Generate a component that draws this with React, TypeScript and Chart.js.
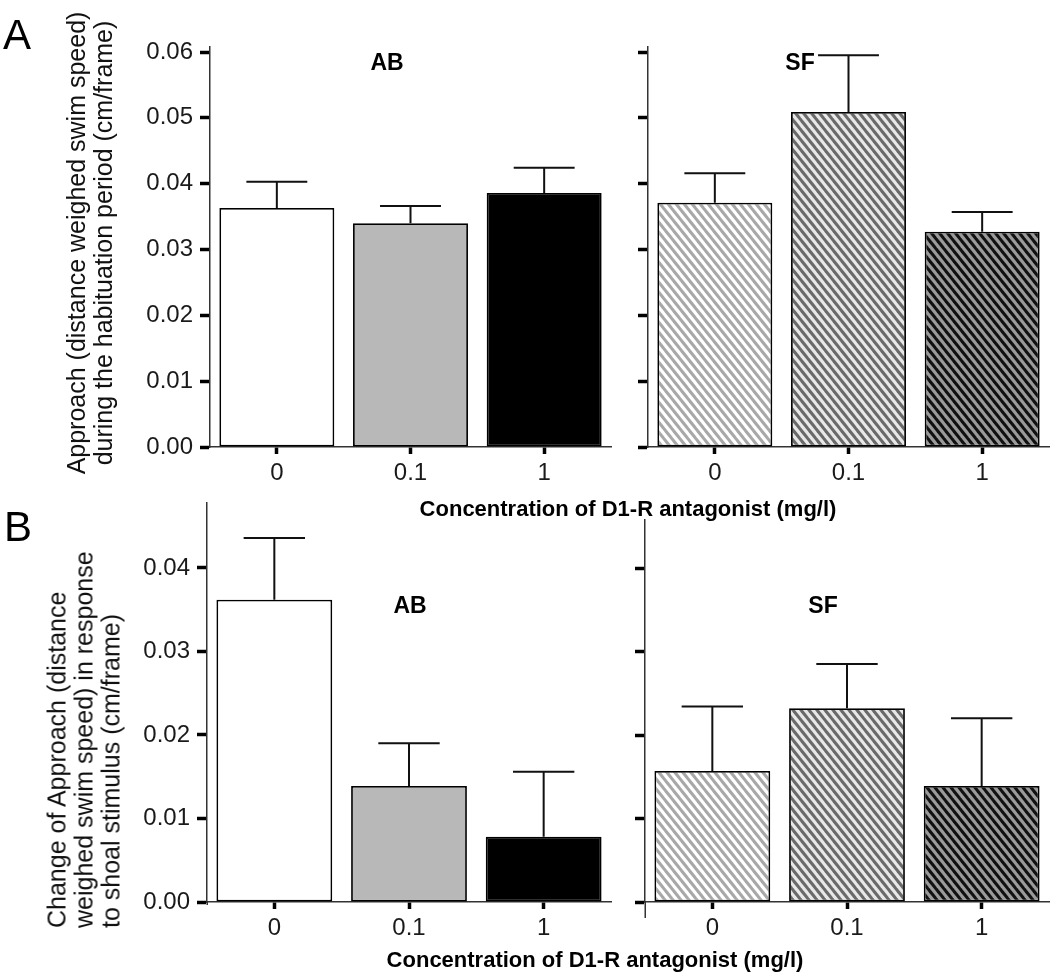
import React, { useEffect, useRef } from "react";
import { Chart, registerables } from "chart.js";

Chart.register(...registerables);

// ---------- data ----------
const categories = ["0", "0.1", "1"];

const abHabituationMeans = [0.0363, 0.034, 0.0386];
const abHabituationSem = [0.004, 0.0026, 0.0038];
const sfHabituationMeans = [0.0371, 0.0509, 0.0327];
const sfHabituationSem = [0.0045, 0.0086, 0.003];

const abChangeMeans = [0.0362, 0.0139, 0.0078];
const abChangeSem = [0.0074, 0.0051, 0.0078];
const sfChangeMeans = [0.0157, 0.0232, 0.0139];
const sfChangeSem = [0.0077, 0.0053, 0.0081];

const habituationTicks = [0, 0.01, 0.02, 0.03, 0.04, 0.05, 0.06];
const changeTicks = [0, 0.01, 0.02, 0.03, 0.04];

const yTitleA = ["Approach (distance weighed swim speed)", "during the habituation period (cm/frame)"];
const yTitleB = ["Change of Approach (distance", "weighed swim speed) in response", "to shoal stimulus (cm/frame)"];
const xTitle = "Concentration of D1-R antagonist (mg/l)";

// ---------- styles ----------
const FONT = '"Liberation Sans", Arial, Helvetica, sans-serif';
const abFills = ["#ffffff", "#b8b8b8", "#000000"];
const sfHatches = [
  { bg: "#ffffff", fg: "#a8a8a8" },
  { bg: "#e8e8e8", fg: "#6a6a6a" },
  { bg: "#9a9a9a", fg: "#111111" },
];

function makeHatch(bg: string, fg: string): CanvasPattern | string {
  const w = 8;
  const h = 10;
  const c = document.createElement("canvas");
  c.width = w;
  c.height = h;
  const g = c.getContext("2d");
  if (!g) return bg;
  g.fillStyle = bg;
  g.fillRect(0, 0, w, h);
  g.strokeStyle = fg;
  g.lineWidth = 3;
  for (const dx of [-w, 0, w]) {
    g.beginPath();
    g.moveTo(dx - w, -h);
    g.lineTo(dx + 2 * w, 2 * h);
    g.stroke();
  }
  return g.createPattern(c, "repeat") || bg;
}

const errorBarPlugin = {
  id: "errorBars",
  afterDatasetsDraw(chart: any, _args: any, opts: any) {
    const meta = chart.getDatasetMeta(0);
    const ys = chart.scales.y;
    const ctx = chart.ctx;
    const errs: number[] = opts.errors || [];
    const vals: number[] = chart.data.datasets[0].data;
    ctx.save();
    ctx.strokeStyle = "#111";
    ctx.lineWidth = 2;
    meta.data.forEach((bar: any, i: number) => {
      const top = ys.getPixelForValue(vals[i] + errs[i]);
      const half = bar.width * 0.265;
      ctx.beginPath();
      ctx.moveTo(bar.x, bar.y);
      ctx.lineTo(bar.x, top);
      ctx.moveTo(bar.x - half, top);
      ctx.lineTo(bar.x + half, top);
      ctx.stroke();
    });
    if (opts.extendBelow) {
      const a = chart.chartArea;
      ctx.strokeStyle = "#333";
      ctx.lineWidth = 1.5;
      ctx.beginPath();
      ctx.moveTo(Math.round(a.left) + 0.25, a.bottom);
      ctx.lineTo(Math.round(a.left) + 0.25, a.bottom + opts.extendBelow);
      ctx.stroke();
    }
    ctx.restore();
  },
};

type PanelCfg = {
  left: number;
  top: number;
  w: number;
  h: number;
  means: number[];
  sems: number[];
  hatched: boolean;
  yMax: number;
  yTicks: number[];
  yWidth: number;
  padTop: number;
  padRight: number;
  xHeight: number;
  showYLabels: boolean;
  extendBelow: number;
};

function Panel({ cfg }: { cfg: PanelCfg }) {
  const ref = useRef<HTMLCanvasElement>(null);
  useEffect(() => {
    const canvas = ref.current;
    if (!canvas) return;
    const fills = cfg.hatched ? sfHatches.map((f) => makeHatch(f.bg, f.fg)) : abFills;
    const chart = new Chart(canvas, {
      type: "bar",
      data: {
        labels: categories,
        datasets: [
          {
            data: cfg.means,
            backgroundColor: fills as any,
            borderColor: "#000",
            borderWidth: 1.8,
            borderSkipped: false,
            categoryPercentage: 1,
            barPercentage: 0.86,
          },
        ],
      },
      options: {
        animation: false,
        responsive: false,
        devicePixelRatio: 1,
        layout: { padding: { top: cfg.padTop, right: cfg.padRight, left: 0, bottom: 0 } },
        plugins: {
          legend: { display: false },
          tooltip: { enabled: false },
          title: { display: false },
          errorBars: { errors: cfg.sems, extendBelow: cfg.extendBelow },
        } as any,
        scales: {
          x: {
            type: "category",
            offset: true,
            grid: {
              display: true,
              drawOnChartArea: false,
              offset: false,
              tickLength: 7,
              tickWidth: 3.5,
              tickColor: "#000",
            },
            border: { display: true, color: "#333", width: 1.5 },
            ticks: { font: { family: FONT, size: 24 }, color: "#1a1a1a", padding: 5, maxRotation: 0 },
            afterFit: (s: any) => {
              s.height = cfg.xHeight;
            },
          },
          y: {
            type: "linear",
            min: 0,
            max: cfg.yMax,
            afterBuildTicks: (s: any) => {
              s.ticks = cfg.yTicks.map((value) => ({ value }));
            },
            grid: {
              display: true,
              drawOnChartArea: false,
              tickLength: 10,
              tickWidth: 3.5,
              tickColor: "#000",
            },
            border: { display: true, color: "#333", width: 1.5 },
            ticks: {
              display: cfg.showYLabels,
              font: { family: FONT, size: 24 },
              color: "#1a1a1a",
              padding: 7,
              callback: (v: any) => Number(v).toFixed(2),
            },
            afterFit: (s: any) => {
              s.width = cfg.yWidth;
            },
          },
        },
      },
      plugins: [errorBarPlugin],
    } as any);
    return () => chart.destroy();
  }, []);
  return (
    <canvas
      ref={ref}
      width={cfg.w}
      height={cfg.h}
      style={{ position: "absolute", left: cfg.left, top: cfg.top, width: cfg.w, height: cfg.h }}
    />
  );
}

const panels: PanelCfg[] = [
  {
    left: 0, top: 0, w: 625, h: 495,
    means: abHabituationMeans, sems: abHabituationSem, hatched: false,
    yMax: 0.06076, yTicks: habituationTicks, yWidth: 210, padTop: 47, padRight: 14, xHeight: 48,
    showYLabels: true, extendBelow: 0,
  },
  {
    left: 625, top: 0, w: 425, h: 495,
    means: sfHabituationMeans, sems: sfHabituationSem, hatched: true,
    yMax: 0.06076, yTicks: habituationTicks, yWidth: 23, padTop: 47, padRight: 1, xHeight: 48,
    showYLabels: false, extendBelow: 0,
  },
  {
    left: 0, top: 480, w: 625, h: 494,
    means: abChangeMeans, sems: abChangeSem, hatched: false,
    yMax: 0.04778, yTicks: changeTicks, yWidth: 207, padTop: 23, padRight: 14, xHeight: 72,
    showYLabels: true, extendBelow: 3,
  },
  {
    left: 625, top: 480, w: 425, h: 494,
    means: sfChangeMeans, sems: sfChangeSem, hatched: true,
    yMax: 0.04575, yTicks: changeTicks, yWidth: 20, padTop: 40, padRight: 1, xHeight: 72,
    showYLabels: false, extendBelow: 16,
  },
];

function Label({ text, x, top, size, bold, center }: { text: string; x: number; top: number; size: number; bold?: boolean; center?: boolean }) {
  return (
    <div
      style={{
        position: "absolute",
        left: x,
        top,
        fontFamily: FONT,
        fontSize: size,
        lineHeight: `${size}px`,
        fontWeight: bold ? "bold" : "normal",
        color: "#000",
        whiteSpace: "nowrap",
        transform: center ? "translateX(-50%)" : undefined,
        pointerEvents: "none",
      }}
    >
      {text}
    </div>
  );
}

function YTitle({ lines, cx, cy, width, align }: { lines: string[]; cx: number; cy: number; width: number; align: "center" | "left" }) {
  return (
    <div
      style={{
        position: "absolute",
        left: cx,
        top: cy,
        width,
        fontFamily: FONT,
        fontSize: 25,
        lineHeight: "27px",
        color: "#111",
        textAlign: align,
        whiteSpace: "nowrap",
        transform: "translate(-50%, -50%) rotate(-90deg)",
        pointerEvents: "none",
      }}
    >
      {lines.map((l, i) => (
        <div key={i}>{l}</div>
      ))}
    </div>
  );
}

export default function App() {
  return (
    <div style={{ position: "absolute", left: 0, top: 0, width: 1050, height: 974, background: "#fff", overflow: "hidden" }}>
      {panels.map((p, i) => (
        <Panel key={i} cfg={p} />
      ))}
      <Label text="A" x={3} top={14} size={42} />
      <Label text="B" x={4} top={506} size={42} />
      <YTitle lines={yTitleA} cx={90} cy={243} width={500} align="center" />
      <YTitle lines={yTitleB} cx={84} cy={708} width={440} align="left" />
      <Label text="AB" x={387} top={51} size={23} bold center />
      <Label text="SF" x={800} top={51} size={23} bold center />
      <Label text="AB" x={410} top={594} size={23} bold center />
      <Label text="SF" x={823} top={594} size={23} bold center />
      <Label text={xTitle} x={628} top={498} size={22} bold center />
      <Label text={xTitle} x={595} top={949} size={22} bold center />
    </div>
  );
}
